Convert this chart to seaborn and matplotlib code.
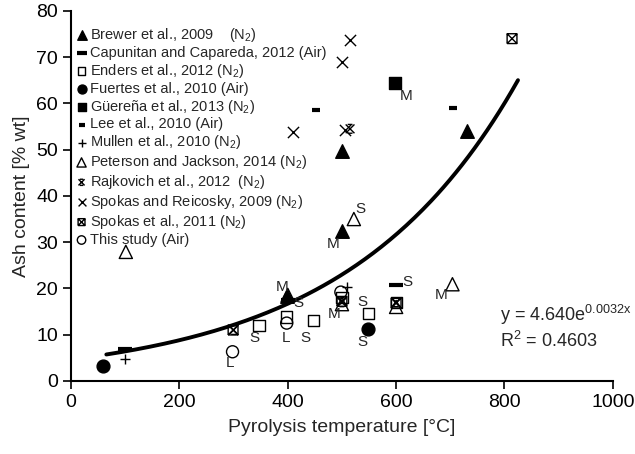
import numpy as np
import pandas as pd
import seaborn as sns
import matplotlib.pyplot as plt
from matplotlib.path import Path

# data (temperature in degC, ash in % wt)
brewer_x = [500, 500, 731, 398]
brewer_y = [49.8, 32.5, 54.0, 18.3]
capunitan_x = [100, 400, 600]
capunitan_y = [6.8, 17.4, 20.8]
enders_x = [347, 398, 447, 549, 500, 600]
enders_y = [12.0, 13.8, 13.0, 14.5, 18.0, 17.0]
fuertes_x = [58, 549]
fuertes_y = [3.2, 11.3]
guerena_x = [598]
guerena_y = [64.5]
lee_x = [453, 705]
lee_y = [58.6, 59.0]
mullen_x = [100, 509]
mullen_y = [4.8, 20.2]
peterson_x = [101, 522, 704, 400, 500, 600]
peterson_y = [27.9, 35.0, 20.9, 18.6, 16.6, 16.0]
rajkovich_x = [300, 500, 600, 515]
rajkovich_y = [11.0, 17.0, 17.0, 54.5]
reicosky_x = [514, 501, 410, 506]
reicosky_y = [73.7, 69.0, 53.8, 54.3]
spokas_x = [814, 299, 600, 500]
spokas_y = [74.0, 11.0, 16.8, 17.2]
study_x = [298, 398, 498]
study_y = [6.3, 12.5, 19.2]

# feedstock letters written next to points
note_text = ["M", "M", "S", "S", "L", "S", "L", "M", "S", "S", "S", "M", "M", "S"]
note_x = [484, 389, 420, 338, 397, 432, 293, 485, 537, 537, 621, 684, 618, 534]
note_y = [29.5, 20.2, 16.8, 9.2, 9.2, 9.2, 3.9, 14.4, 17.1, 8.4, 21.4, 18.5, 61.5, 37.2]

# exponential fit shown on the chart
fit_a = 4.640
fit_b = 0.0032
fit_r2 = 0.4603

M, L = Path.MOVETO, Path.LINETO
boxed_x = Path([(-1, -1), (1, -1), (1, 1), (-1, 1), (-1, -1),
                (-1, -1), (1, 1), (-1, 1), (1, -1)],
               [M, L, L, L, L, M, L, M, L])
hourglass = Path([(-1, -1), (1, 1), (-1, 1), (1, -1),
                  (-0.55, 1), (0.55, 1), (-0.55, -1), (0.55, -1)],
                 [M, L, M, L, M, L, M, L])

N2 = " (N$_2$)"
series = [
    ("Brewer et al., 2009    (N$_2$)", brewer_x, brewer_y, "^", 95, True, 1),
    ("Capunitan and Capareda, 2012 (Air)", capunitan_x, capunitan_y, "_", 110, True, 3),
    ("Enders et al., 2012" + N2, enders_x, enders_y, "s", 65, False, 1),
    ("Fuertes et al., 2010 (Air)", fuertes_x, fuertes_y, "o", 85, True, 1),
    ("Güereña et al., 2013" + N2, guerena_x, guerena_y, "s", 75, True, 1),
    ("Lee et al., 2010 (Air)", lee_x, lee_y, "_", 35, True, 3),
    ("Mullen et al., 2010" + N2, mullen_x, mullen_y, "+", 60, True, 1),
    ("Peterson and Jackson, 2014" + N2, peterson_x, peterson_y, "^", 90, False, 1),
    ("Rajkovich et al., 2012  (N$_2$)", rajkovich_x, rajkovich_y, hourglass, 40, False, 1),
    ("Spokas and Reicosky, 2009" + N2, reicosky_x, reicosky_y, "x", 65, True, 1),
    ("Spokas et al., 2011" + N2, spokas_x, spokas_y, boxed_x, 50, False, 1),
    ("This study (Air)", study_x, study_y, "o", 75, False, 1),
]

sns.set_theme(style="white")
plt.rcParams["font.family"] = ["Liberation Sans", "DejaVu Sans"]
plt.rcParams["mathtext.fontset"] = "custom"
plt.rcParams["mathtext.rm"] = "Liberation Sans"
plt.rcParams["mathtext.it"] = "Liberation Sans"

fig = plt.figure(figsize=(6.35, 4.54), dpi=100)
ax = fig.add_axes([0.112, 0.161, 0.853, 0.815])

for label, xs, ys, marker, size, filled, lw in series:
    df = pd.DataFrame({"x": xs, "y": ys})
    if filled:
        sns.scatterplot(data=df, x="x", y="y", marker=marker, s=size, color="black",
                        edgecolor="black", linewidth=lw, label=label, ax=ax, zorder=3)
    else:
        sns.scatterplot(data=df, x="x", y="y", marker=marker, s=size, color="black",
                        facecolor="none", edgecolor="black", linewidth=1,
                        label=label, ax=ax, zorder=3)

fit_x = np.linspace(65, 825, 200)
fit = pd.DataFrame({"x": fit_x, "y": fit_a * np.exp(fit_b * fit_x)})
sns.lineplot(data=fit, x="x", y="y", color="black", linewidth=2.8, ax=ax, zorder=2)

for t, x, y in zip(note_text, note_x, note_y):
    ax.text(x, y, t, fontsize=11, ha="center", va="center")

ax.text(792, 13.0, "y = %.3fe$^{%.4fx}$" % (fit_a, fit_b), fontsize=13,
        ha="left", va="baseline")
ax.text(792, 7.3, "R$^2$ = %.4f" % fit_r2, fontsize=13, va="baseline")

ax.set_xlim(0, 1000)
ax.set_ylim(0, 80)
ax.set_xticks(range(0, 1001, 200))
ax.set_yticks(range(0, 81, 10))
ax.set_xlabel("Pyrolysis temperature [°C]", fontsize=14, labelpad=6)
ax.set_ylabel("Ash content [% wt]", fontsize=14)
ax.tick_params(axis="both", direction="out", length=6, width=1.2, labelsize=14,
               left=True, bottom=True, color="black", labelcolor="black")
sns.despine(ax=ax)
for side in ["left", "bottom"]:
    ax.spines[side].set_color("black")
    ax.spines[side].set_linewidth(1.5)

ax.legend(loc="upper left", bbox_to_anchor=(-0.005, 0.975), frameon=False, fontsize=10.5,
          labelspacing=0.13, handletextpad=0.1, handlelength=1.0, borderaxespad=0.0,
          markerscale=0.7)

fig.savefig("out.png", dpi=100)
